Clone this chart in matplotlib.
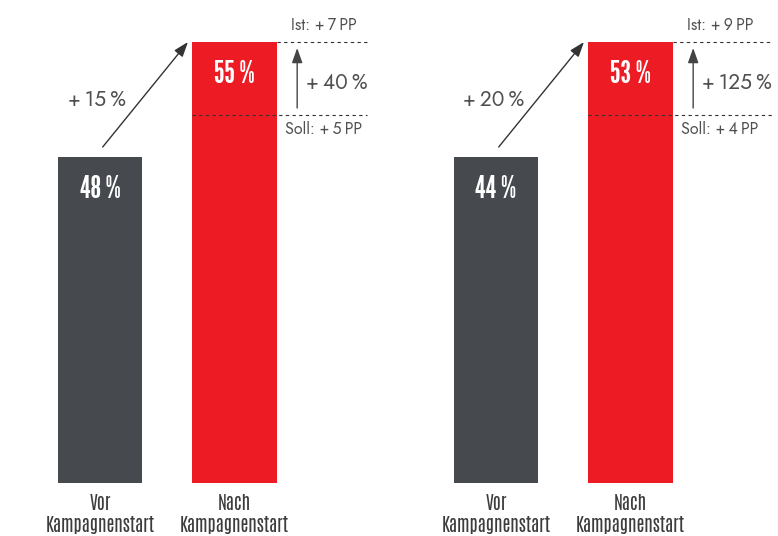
import matplotlib
matplotlib.use("Agg")
import matplotlib.pyplot as plt
import matplotlib.transforms as mtransforms

# Data
categories = ["Vor\nKampagnenstart", "Nach\nKampagnenstart"]
before_values = [48, 44]
after_values = [55, 53]
growth_labels = ["+\u200915\u2009%", "+\u200920\u2009%"]
ist_labels = ["Ist: +\u20097\u2009PP", "Ist: +\u20099\u2009PP"]
soll_labels = ["Soll: +\u20095\u2009PP", "Soll: +\u20094\u2009PP"]
over_target_labels = ["+\u200940\u2009%", "+\u2009125\u2009%"]

DARK = "#464a4f"
RED = "#ed1c24"
TEXT = "#505050"
LINE = "#333333"

VALUE_FONT = ["League Gothic", "DejaVu Sans"]
CAT_FONT = ["Antonio", "DejaVu Sans"]
NOTE_FONT = ["Jost", "DejaVu Sans"]

# layout (pixels of a 778x536 canvas)
W, H = 778, 536
BASE_PX = 483          # bar baseline from top
DARK_H, RED_H = 326, 441
SOLL_H = 368
UNIT_PX = 134.5        # distance between bar centres
BAR_W = 0.63
panel_left_px = [0, 396]
panel_w_px = 382
dash_end = [1.985, 2.055]

fig = plt.figure(figsize=(W / 100, H / 100), dpi=100)

for i in range(2):
    ax = fig.add_axes([panel_left_px[i] / W, (H - BASE_PX) / H, panel_w_px / W, BASE_PX / H])
    b, a = before_values[i], after_values[i]
    # scale so the two bars land at the reference heights
    k = (RED_H - DARK_H) / (a - b)
    y0 = b - DARK_H / k
    ax.set_ylim(y0, y0 + BASE_PX / k)
    x0 = -100 / UNIT_PX
    ax.set_xlim(x0, x0 + panel_w_px / UNIT_PX)

    ax.bar([0, 1], [b - y0, a - y0], bottom=y0, width=BAR_W, color=[DARK, RED], zorder=2)

    # value labels inside the bars
    off = mtransforms.ScaledTranslation(0, -0.33, fig.dpi_scale_trans)
    for x, v in zip([0, 1], [b, a]):
        ax.text(x, v, f"{v} %", transform=ax.transData + off, ha="center", va="center",
                color="white", fontsize=22, family=VALUE_FONT, zorder=3)

    blend = mtransforms.blended_transform_factory(ax.transData, ax.transAxes)

    # dashed reference lines
    ax.plot([1 + BAR_W / 2, dash_end[i]], [a, a], color=LINE, lw=0.8,
            ls=(0, (3, 3)), zorder=4)
    ax.plot([1 - BAR_W / 2, dash_end[i]], [SOLL_H / BASE_PX] * 2, color=LINE, lw=0.8,
            ls=(0, (3, 3)), transform=blend, zorder=4)

    # diagonal growth arrow
    up = mtransforms.ScaledTranslation(0, 0.10, fig.dpi_scale_trans)
    ax.annotate("", xy=(0.654, a), xycoords="data",
                xytext=(0.02, b), textcoords=ax.transData + up,
                arrowprops=dict(arrowstyle="-|>,head_length=0.9,head_width=0.32",
                                color=LINE, lw=1.0, mutation_scale=10,
                                shrinkA=0, shrinkB=0))
    ax.text(-0.02, (BASE_PX - 100) / BASE_PX, growth_labels[i], transform=blend,
            ha="center", va="center", fontsize=15, color=TEXT, family=NOTE_FONT,
            fontweight="light")

    # vertical over-target arrow
    ax.annotate("", xy=(1.466, (BASE_PX - 48) / BASE_PX), xycoords=blend,
                xytext=(1.466, (BASE_PX - 108) / BASE_PX), textcoords=blend,
                arrowprops=dict(arrowstyle="-|>,head_length=0.9,head_width=0.32",
                                color="#444444", lw=1.0, mutation_scale=10,
                                shrinkA=0, shrinkB=0))
    ax.text(1.53, (BASE_PX - 83) / BASE_PX, over_target_labels[i], transform=blend,
            ha="left", va="center", fontsize=15, color=TEXT, family=NOTE_FONT,
            fontweight="light")

    ax.text(1.665, (BASE_PX - 26) / BASE_PX, ist_labels[i], transform=blend,
            ha="center", va="center", fontsize=11.5, color=TEXT, family=NOTE_FONT,
            fontweight="light")
    ax.text(1.665, (BASE_PX - 130) / BASE_PX, soll_labels[i], transform=blend,
            ha="center", va="center", fontsize=11.5, color=TEXT, family=NOTE_FONT,
            fontweight="light")

    ax.set_xticks([0, 1])
    ax.set_xticklabels(categories, family=CAT_FONT, fontsize=13, color="#3c3c3c",
                       linespacing=1.25, fontweight="bold")
    ax.tick_params(axis="x", length=0, pad=8)
    ax.set_yticks([])
    for s in ax.spines.values():
        s.set_visible(False)
    ax.patch.set_alpha(0)

fig.savefig("out.png", dpi=100)
